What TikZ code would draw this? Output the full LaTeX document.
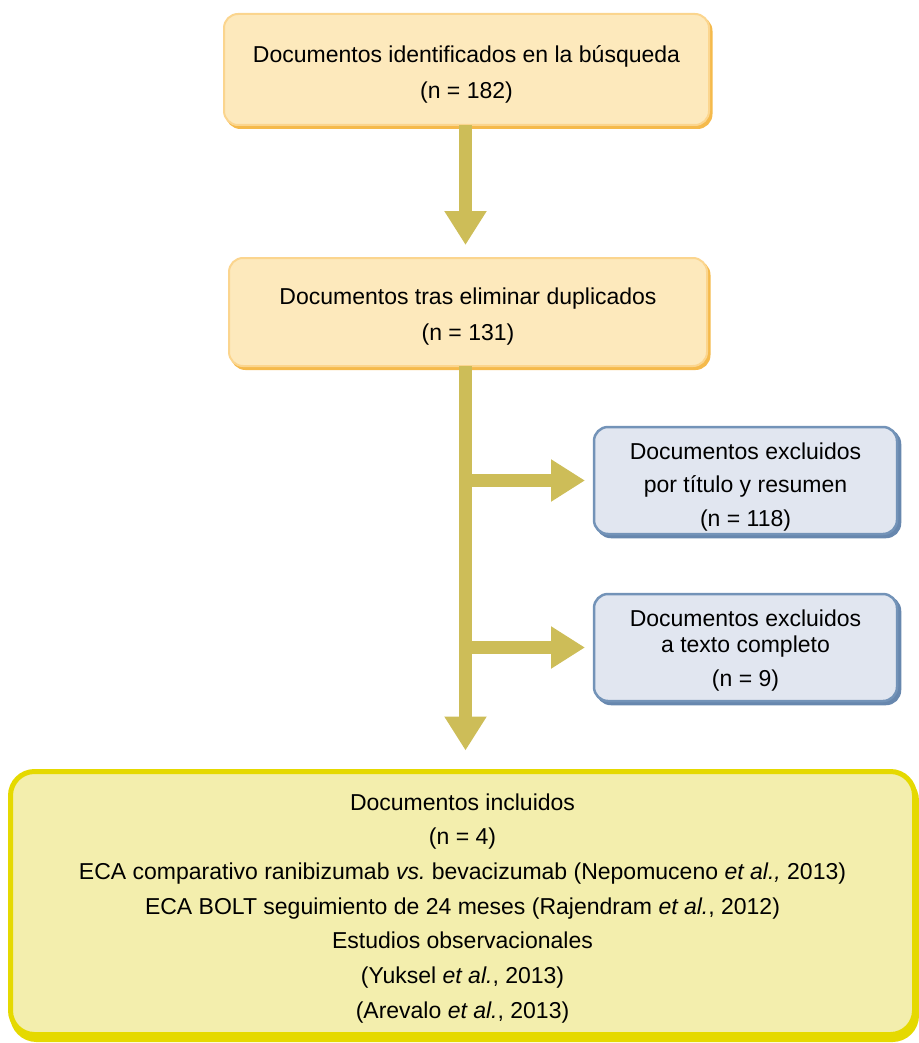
\documentclass[tikz,border=0pt]{standalone}
\usepackage{fontspec}
\setmainfont{Liberation Sans}
\usetikzlibrary{arrows.meta,calc}

\definecolor{peach}{HTML}{FDE9BC}
\definecolor{peachline}{HTML}{FBD58E}
\definecolor{peachshadow}{HTML}{F5BA4C}
\definecolor{bluefill}{HTML}{E1E6F0}
\definecolor{blueline}{HTML}{7393B8}
\definecolor{blueshadow}{HTML}{6787AE}
\definecolor{olive}{HTML}{CDBD58}
\definecolor{lemon}{HTML}{F3EEAD}
\definecolor{lemonline}{HTML}{E5D900}

% invisible strut that sets the height of a box's first line
\newcommand\firstline[1]{\rule{0pt}{#1}}

\begin{document}
\begin{tikzpicture}[x=1pt,y=-1pt,
  box/.style={rounded corners=14pt, inner sep=0pt, outer sep=0pt, align=center,
              font=\fontsize{23}{35}\selectfont},
  stagebox/.style={box, fill=peach, draw=peachline, line width=2pt,
              preaction={fill=peachshadow, draw=peachshadow,
                         transform canvas={shift={(2.5pt,-3pt)}}}},
  outbox/.style={box, fill=bluefill, draw=blueline, line width=2.5pt,
              font=\fontsize{23}{33.5}\selectfont,
              preaction={fill=blueshadow, draw=blueshadow,
                         transform canvas={shift={(3pt,-3pt)}}}},
  finalbox/.style={box, rounded corners=24pt, fill=lemon, draw=lemonline, line width=5pt,
              font=\fontsize{23}{34.7}\selectfont,
              preaction={fill=lemonline, draw=lemonline,
                         transform canvas={shift={(2pt,-5pt)}}}},
  flow/.style={olive, line width=13pt, line cap=butt,
              -{Triangle[length=34pt,width=40pt]}},
]
\useasboundingbox (0,0) rectangle (918,1043);

% boxes
\node[stagebox, minimum width=485pt, minimum height=111pt] (b1) at (466.5,69.5)
  {\firstline{27pt}Documentos identificados en la búsqueda\\[0.5pt](n = 182)};
\node[stagebox, minimum width=478pt, minimum height=108pt] (b2) at (468,312)
  {\firstline{26pt}Documentos tras eliminar duplicados\\[1pt](n = 131)};
\node[outbox, minimum width=303pt, minimum height=107pt] (b3) at (745.5,480.5)
  {\firstline{29pt}Documentos excluidos\\por título y resumen\\(n = 118)};
\node[outbox, minimum width=303pt, minimum height=107pt] (b4) at (745.5,647.5)
  {\firstline{23pt}Documentos excluidos\\[-7.5pt]a texto completo\\(n = 9)};
\node[finalbox, minimum width=904pt, minimum height=263pt] (b5) at (462.5,903)
  {\firstline{27pt}Documentos incluidos\\(n = 4)\\
   ECA comparativo ranibizumab \textit{vs.}\ bevacizumab (Nepomuceno \textit{et al.,} 2013)\\
   ECA BOLT seguimiento de 24 meses (Rajendram \textit{et al.}, 2012)\\
   Estudios observacionales\\
   (Yuksel \textit{et al.}, 2013)\\
   (Arevalo \textit{et al.}, 2013)};

% flow arrows
\coordinate (ax) at (465.5,0);
\coordinate (j1) at (ax |- b3.west);
\coordinate (j2) at (ax |- b4.west);
\draw[flow, shorten >=13pt] (b1.south -| ax) -- (b2.north -| ax);
\draw[flow, shorten >=21pt] (b2.south -| ax) -- (b5.north -| ax);
\draw[flow, shorten >=9pt] (j1) -- (b3.west);
\draw[flow, shorten >=9pt] (j2) -- (b4.west);
\end{tikzpicture}
\end{document}
